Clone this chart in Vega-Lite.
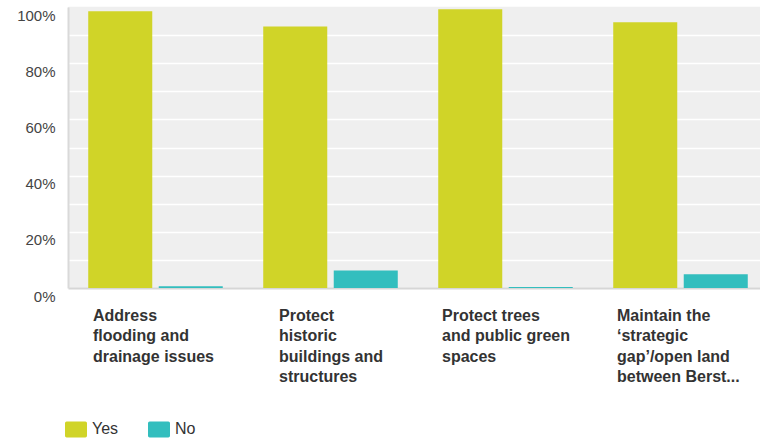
{
  "$schema": "https://vega.github.io/schema/vega-lite/v6.json",
  "autosize": {"type": "none"},
  "padding": {"left": 68, "top": 7, "right": 0, "bottom": 151},
  "width": 692,
  "height": 281,
  "background": "white",
  "config": {
    "view": {"fill": "#efefef", "stroke": null},
    "font": "Liberation Sans"
  },
  "data": {
    "values": [
      {"cat": "A", "answer": "Yes", "value": 0.985},
      {"cat": "A", "answer": "No", "value": 0.006},
      {"cat": "B", "answer": "Yes", "value": 0.931},
      {"cat": "B", "answer": "No", "value": 0.062},
      {"cat": "C", "answer": "Yes", "value": 0.992},
      {"cat": "C", "answer": "No", "value": 0.004},
      {"cat": "D", "answer": "Yes", "value": 0.946},
      {"cat": "D", "answer": "No", "value": 0.049}
    ]
  },
  "mark": {"type": "bar"},
  "encoding": {
    "x": {
      "field": "cat",
      "type": "nominal",
      "sort": ["A", "B", "C", "D"],
      "scale": {"range": [0, 700], "paddingInner": 0, "paddingOuter": 0},
      "axis": {
        "title": null,
        "grid": false,
        "ticks": false,
        "tickSize": 0,
        "domainColor": "#d6d6d6",
        "domainWidth": 2,
        "labelAngle": 0,
        "labelAlign": "left",
        "labelBaseline": "alphabetic",
        "labelPadding": 32,
        "labelFontSize": 16,
        "labelFontWeight": "bold",
        "labelColor": "#333333",
        "labelLineHeight": 20.5,
        "labelLimit": 0,
        "labelOverlap": false,
        "labelOffset": {
          "condition": [
            {"test": "datum.value == 'A'", "value": -62.5},
            {"test": "datum.value == 'B'", "value": -51.5}
          ],
          "value": -63.5
        },
        "labelExpr": "datum.value == 'A' ? ['Address', 'flooding and', 'drainage issues'] : datum.value == 'B' ? ['Protect', 'historic', 'buildings and', 'structures'] : datum.value == 'C' ? ['Protect trees', 'and public green', 'spaces'] : ['Maintain the', '‘strategic', 'gap’/open land', 'between Berst...']"
      }
    },
    "xOffset": {
      "field": "answer",
      "type": "nominal",
      "sort": ["Yes", "No"],
      "scale": {"paddingInner": 0.092, "paddingOuter": 0.287}
    },
    "y": {
      "field": "value",
      "type": "quantitative",
      "scale": {"domain": [0, 1], "nice": false},
      "axis": {
        "title": null,
        "values": [0, 0.1, 0.2, 0.3, 0.4, 0.5, 0.6, 0.7, 0.8, 0.9, 1.0],
        "labelExpr": "round(datum.value * 10) % 2 == 0 ? format(datum.value, '.0%') : ''",
        "ticks": false,
        "tickSize": 0,
        "domainColor": "#d9d9d9",
        "domainWidth": 2,
        "gridColor": {
          "condition": {"test": "datum.value >= 1", "value": "#efefef"},
          "value": "#ffffff"
        },
        "gridWidth": 1.5,
        "labelFontSize": 15,
        "labelColor": "#444444",
        "labelPadding": 13,
        "labelOffset": 8,
        "labelFlush": false,
        "labelOverlap": false
      }
    },
    "color": {
      "field": "answer",
      "type": "nominal",
      "sort": ["Yes", "No"],
      "scale": {"domain": ["Yes", "No"], "range": ["#d0d428", "#33bebe"]},
      "legend": {
        "title": null,
        "orient": "none",
        "direction": "horizontal",
        "legendX": -3,
        "legendY": 411,
        "symbolType": "M-0.85,-0.73H0.85Q1,-0.73 1,-0.58V0.58Q1,0.73 0.85,0.73H-0.85Q-1,0.73 -1,0.58V-0.58Q-1,-0.73 -0.85,-0.73Z",
        "symbolSize": 484,
        "symbolStrokeWidth": 0,
        "symbolOpacity": 1,
        "labelFontSize": 16,
        "labelColor": "#333333",
        "labelOffset": 5,
        "columnPadding": 29
      }
    }
  }
}
